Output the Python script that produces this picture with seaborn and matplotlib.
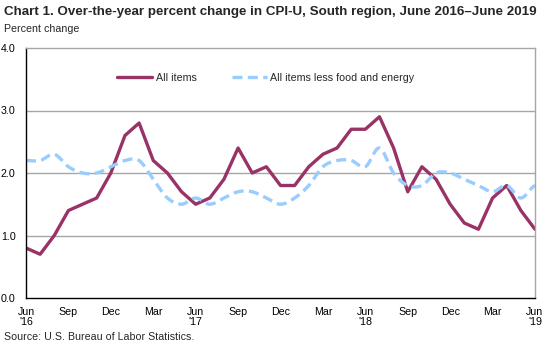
import numpy as np
import pandas as pd
import matplotlib
matplotlib.use("Agg")
import matplotlib.pyplot as plt
import seaborn as sns

sns.set_theme(style="white")
plt.rcParams["font.family"] = ["Liberation Sans", "DejaVu Sans"]

# Monthly over-the-year percent change, June 2016 through June 2019
months = pd.date_range("2016-06-01", "2019-06-01", freq="MS")
all_items = [0.8, 0.7, 1.0, 1.4, 1.5, 1.6, 2.0, 2.6, 2.8, 2.2, 2.0, 1.7,
             1.5, 1.6, 1.9, 2.4, 2.0, 2.1, 1.8, 1.8, 2.1, 2.3, 2.4, 2.7,
             2.7, 2.9, 2.4, 1.7, 2.1, 1.9, 1.5, 1.2, 1.1, 1.6, 1.8, 1.4,
             1.1]
core = [2.2, 2.2, 2.3, 2.1, 2.0, 2.0, 2.1, 2.2, 2.2, 1.9, 1.6, 1.5,
        1.6, 1.5, 1.6, 1.7, 1.7, 1.6, 1.5, 1.6, 1.8, 2.1, 2.2, 2.2,
        2.1, 2.4, 2.0, 1.8, 1.8, 2.0, 2.0, 1.9, 1.8, 1.7, 1.8, 1.6,
        1.8]
series_names = ["All items", "All items less food and energy"]
y_ticks = [0.0, 1.0, 2.0, 3.0, 4.0]
x_labels = ["Jun\n'16", "Sep", "Dec", "Mar", "Jun\n'17", "Sep", "Dec", "Mar",
            "Jun\n'18", "Sep", "Dec", "Mar", "Jun\n'19"]

COL_ALL = "#993366"
COL_CORE = "#99CCFF"
SMALL = 7.7


def smooth(y, n=12):
    """Catmull-Rom curve through the monthly points (smoothed line style)."""
    y = np.asarray(y, dtype=float)
    p = np.concatenate([[y[0]], y, [y[-1]]])
    xs, ys = [], []
    for i in range(len(y) - 1):
        p0, p1, p2, p3 = p[i], p[i + 1], p[i + 2], p[i + 3]
        t = np.linspace(0, 1, n, endpoint=False)
        v = 0.5 * ((2 * p1) + (-p0 + p2) * t + (2 * p0 - 5 * p1 + 4 * p2 - p3) * t ** 2
                   + (-p0 + 3 * p1 - 3 * p2 + p3) * t ** 3)
        xs.append(i + t)
        ys.append(v)
    xs.append([len(y) - 1])
    ys.append([y[-1]])
    return np.concatenate(xs), np.concatenate(ys)


idx = np.arange(len(months))
df_all = pd.DataFrame({"x": idx, "y": all_items})
sx, sy = smooth(core)
df_core = pd.DataFrame({"x": sx, "y": sy})

fig = plt.figure(figsize=(5.45, 3.47), dpi=100)
ax = fig.add_axes([26 / 545, 1 - 298 / 347, (535 - 26) / 545, (298 - 48) / 347])

for yv in [1.0, 2.0, 3.0]:
    ax.axhline(yv, color="#a6a6a6", lw=1.0, zorder=0)

sns.lineplot(data=df_all, x="x", y="y", ax=ax, color=COL_ALL, lw=2.4,
             label=series_names[0], estimator=None, sort=False)
sns.lineplot(data=df_core, x="x", y="y", ax=ax, color=COL_CORE, lw=2.4,
             label=series_names[1], estimator=None, sort=False,
             dashes=False, linestyle=(0, (3.0, 1.6)))

ax.set_xlim(0, len(months) - 1)
ax.set_ylim(0, 4)
ax.set_yticks(y_ticks)
ax.set_yticklabels([f"{v:.1f}" for v in y_ticks], fontsize=SMALL, color="black")
ax.tick_params(axis="y", length=0, pad=7.5)
ax.set_xticks(idx, minor=True)
ax.set_xticks(idx[::3])
ax.set_xticklabels(x_labels, fontsize=SMALL, color="black", linespacing=1.05)
ax.tick_params(axis="x", which="both", direction="inout", length=7, width=1,
               color="black", pad=3)
ax.set_xlabel("")
ax.set_ylabel("")

for side in ["left", "bottom"]:
    ax.spines[side].set_color("black")
    ax.spines[side].set_linewidth(1.0)
for side in ["top", "right"]:
    ax.spines[side].set_color("#a6a6a6")
    ax.spines[side].set_linewidth(1.0)

leg = ax.legend(loc="upper left", bbox_to_anchor=(0.16, 0.94), ncol=2,
                frameon=False, fontsize=SMALL, handlelength=3.3, handletextpad=0.3,
                columnspacing=3.3)

fig.text(4 / 545, 1 - 12 / 347, "Chart 1. Over-the-year percent change in CPI-U, South region, June 2016\u2013June 2019",
         fontsize=9.6, fontweight="bold", va="center", ha="left")
fig.text(4 / 545, 1 - 29 / 347, "Percent change", fontsize=SMALL, va="center", ha="left")
fig.text(4 / 545, 1 - 337 / 347, "Source: U.S. Bureau of Labor Statistics.", fontsize=SMALL,
         va="center", ha="left")

fig.savefig("out.png", dpi=100)
